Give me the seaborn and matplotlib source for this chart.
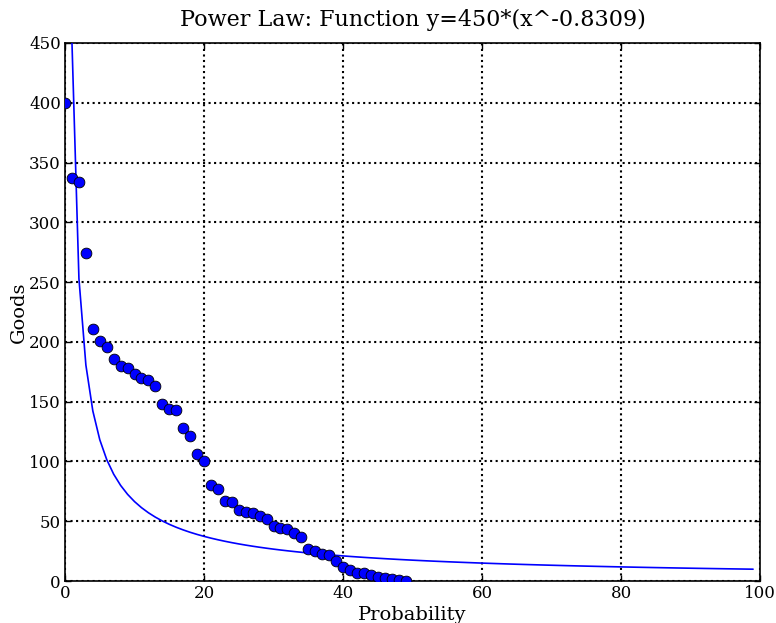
import numpy as np
import pandas as pd
import matplotlib
matplotlib.use("Agg")
import matplotlib.pyplot as plt
import seaborn as sns

# Observed data
probability = list(range(50))
goods = [400, 337, 334, 274, 211, 201, 196, 186, 180, 178,
         173, 170, 168, 163, 148, 144, 143, 128, 121, 106,
         100, 80, 77, 67, 66, 59, 58, 57, 54, 52,
         46, 44, 43.5, 40, 37, 27, 25, 22.5, 21.5, 17,
         12, 9, 7, 6.5, 5.3, 3.6, 2.5, 2, 1, 0]

# Fitted power-law parameters (from the title)
coef_a = 450
coef_b = -0.8309
fit_x = np.arange(1, 100)

sns.set_style("white")
plt.rcParams["font.family"] = ["DejaVu Serif"]
plt.rcParams["text.color"] = "black"
plt.rcParams["axes.labelcolor"] = "black"

fig = plt.figure(figsize=(7.76, 6.23), dpi=100)
ax = fig.add_axes([0.0838, 0.0674, 0.8956, 0.8636])

df_pts = pd.DataFrame({"Probability": probability, "Goods": goods})
df_fit = pd.DataFrame({"x": fit_x, "y": coef_a * fit_x.astype(float) ** coef_b})

sns.lineplot(data=df_fit, x="x", y="y", ax=ax, color="blue", linewidth=1.2, zorder=3)
sns.scatterplot(data=df_pts, x="Probability", y="Goods", ax=ax, color="blue",
                edgecolor="black", linewidth=0.6, s=60, zorder=4)

ax.set_xlim(0, 100)
ax.set_ylim(0, 450)
ax.set_xticks([0, 20, 40, 60, 80, 100])
ax.set_yticks(range(0, 451, 50))
ax.grid(True, color="black", linestyle=":", linewidth=1.5)
ax.set_axisbelow(False)
for sp in ax.spines.values():
    sp.set_visible(True)
    sp.set_color("black")
    sp.set_linewidth(1.2)
ax.tick_params(axis="both", which="both", direction="in", length=4, width=1, pad=3,
               top=True, right=True, bottom=True, left=True, labelsize=12, colors="black")

ax.set_xlabel("Probability", fontsize=14, labelpad=3, color="black")
ax.set_ylabel("Goods", fontsize=14, labelpad=1, color="black")
ax.set_title("Power Law: Function y=450*(x^-0.8309)", fontsize=16, pad=12, color="black")

fig.savefig("out.png", dpi=100, facecolor="white")
